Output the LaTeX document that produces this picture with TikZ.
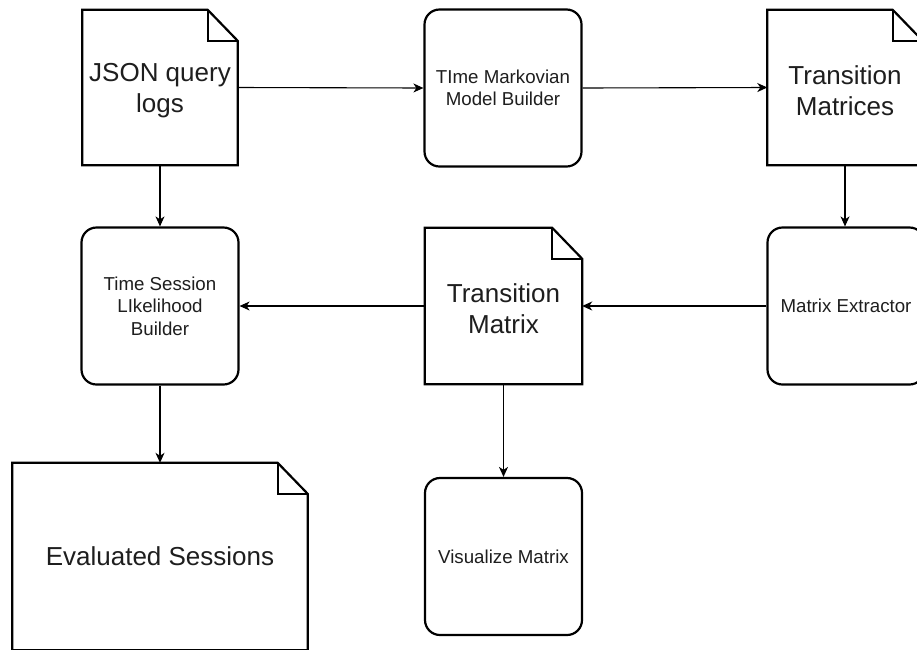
\documentclass[tikz,border=0pt]{standalone}
\usepackage{fontspec}
\setmainfont{Liberation Sans}
\usetikzlibrary{arrows.meta}
\definecolor{txt}{HTML}{1E1E1E}
\tikzset{
  docbox/.style={rectangle, draw=none, fill=white, inner sep=0pt},
  doctext/.style={inner sep=0pt, align=center, text=txt, yshift=-3pt,
    font=\fontsize{26}{31}\selectfont},
  procbox/.style={rectangle, rounded corners=15pt, draw=black, line width=2.2pt, fill=white,
    inner sep=0pt, align=center, text=txt, font=\fontsize{18.7}{22.5}\selectfont,
    minimum width=157pt, minimum height=157pt},
  docline/.style={draw=black, line width=2.2pt, line join=miter},
  conn/.style={draw=black, line width=1.1pt, -{Stealth[length=10pt,width=9pt,inset=3pt]}}
}
\newcommand\docoutline[1]{%
  \draw[docline] (#1.north west) -- ([xshift=-30pt]#1.north east) -- ([yshift=-31pt]#1.north east)
     -- (#1.south east) -- (#1.south west) -- cycle;
  \draw[docline] ([xshift=-30pt]#1.north east) |- ([yshift=-31pt]#1.north east);}
\begin{document}
\begin{tikzpicture}[x=1pt,y=-1pt]
\useasboundingbox (0,0) rectangle (917,649);
\fill[white] (0,0) rectangle (917,649);
% documents
\node[docbox, minimum width=155pt, minimum height=155pt,
  label={[doctext]center:{JSON query\\logs}}] (json) at (160,87.5) {};
\docoutline{json}
\node[docbox, minimum width=155pt, minimum height=155pt,
  label={[doctext]center:{Transition\\Matrices}}] (tms) at (845,87.5) {};
\docoutline{tms}
\node[docbox, minimum width=157pt, minimum height=156pt,
  label={[doctext]center:{Transition\\Matrix}}] (tm) at (503.5,306) {};
\docoutline{tm}
\node[docbox, minimum width=295pt, minimum height=187pt,
  label={[doctext, yshift=3pt]center:{Evaluated Sessions}}] (es) at (160,556.5) {};
\docoutline{es}
% processes
\node[procbox] (tmm) at (503,88) {TIme Markovian\\Model Builder};
\node[procbox] (tsl) at (160,306) {Time Session\\LIkelihood\\Builder};
\node[procbox] (me) at (846,306) {Matrix Extractor};
\node[procbox] (vm) at (503.5,556.5) {Visualize Matrix};
% connectors
\draw[conn] (json.east) -- (tmm.west);
\draw[conn] (tmm.east) -- (tms.west);
\draw[conn] (json.south) -- (tsl.north);
\draw[conn] (tms.south) -- (tms.south |- me.north);
\draw[conn] (me.west) -- (tm.east);
\draw[conn] (tm.west) -- (tsl.east);
\draw[conn] (tsl.south) -- (es.north);
\draw[conn] (tm.south) -- (vm.north);
\end{tikzpicture}
\end{document}
